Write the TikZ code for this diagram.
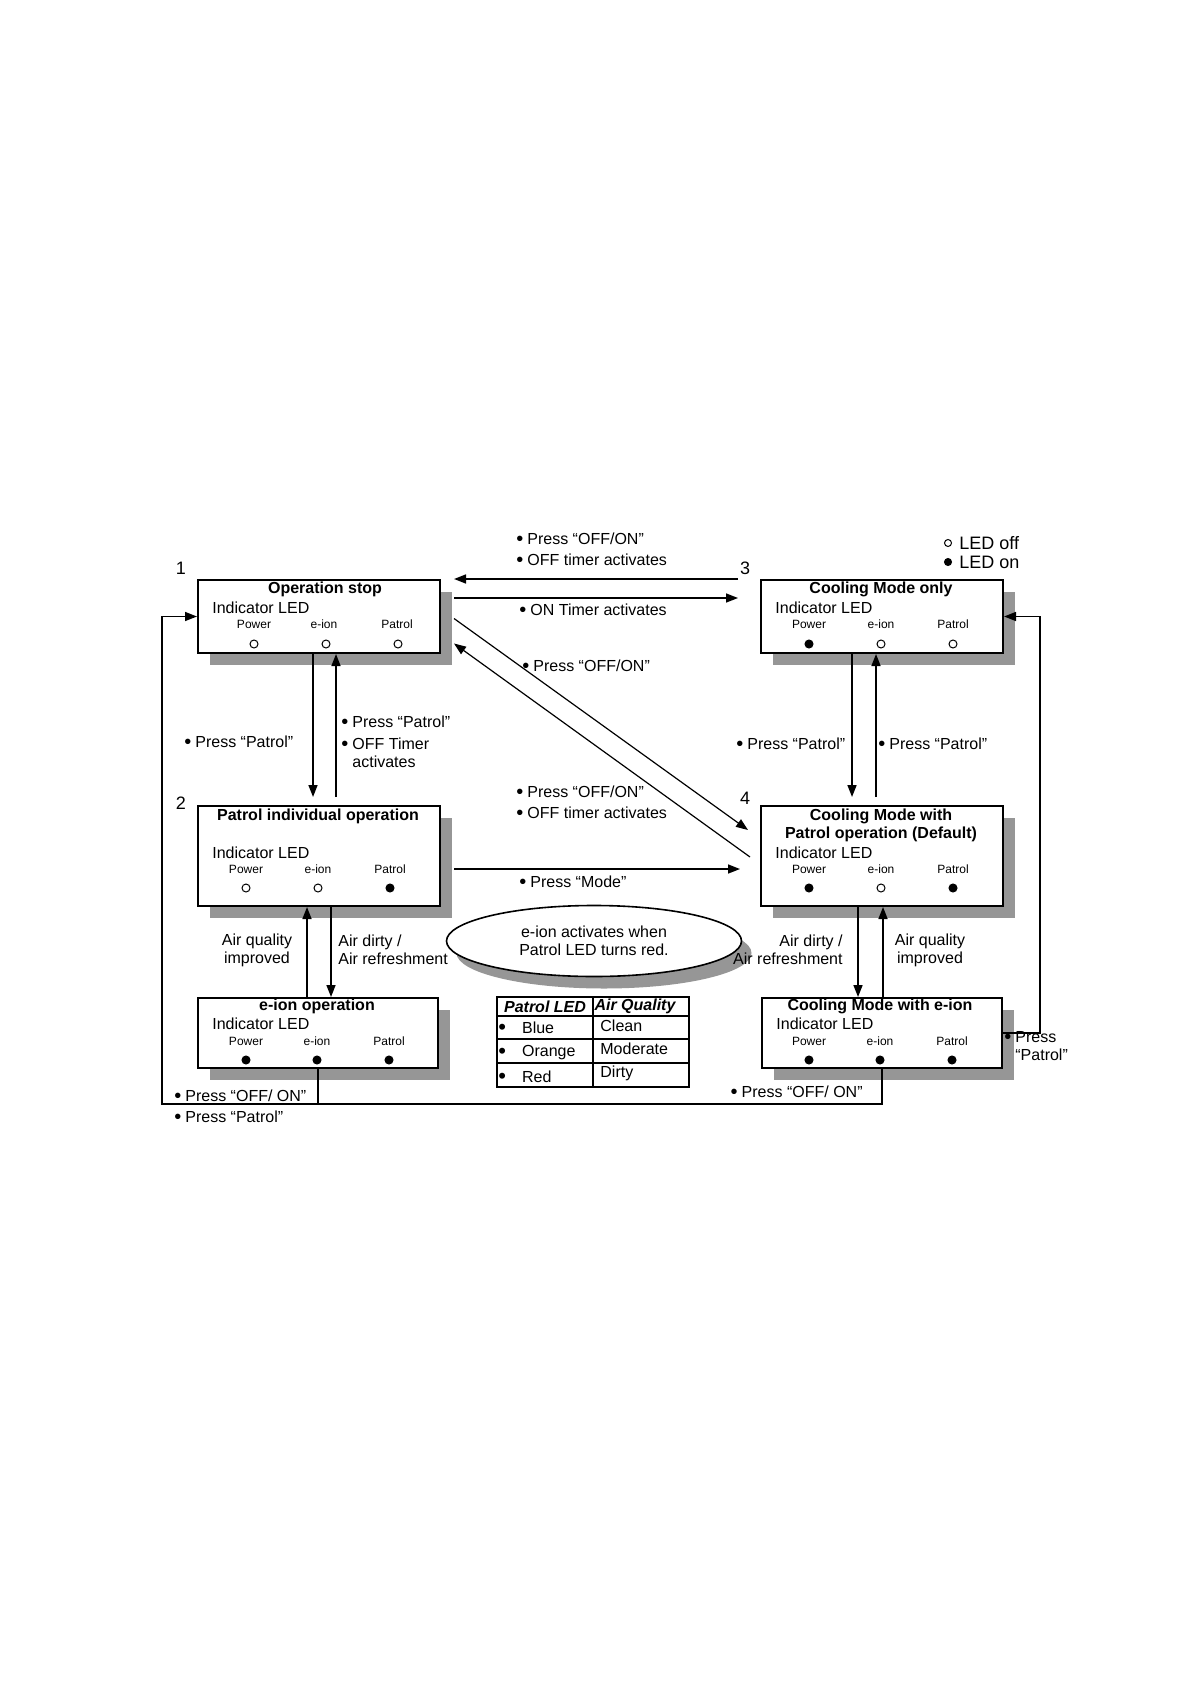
\documentclass[tikz,border=0pt]{standalone}
\usepackage{fontspec}
\setmainfont{Liberation Sans}
\usetikzlibrary{positioning,calc,shapes.geometric,shadows,arrows.meta}

\definecolor{shadowgray}{RGB}{150,150,150}

% bigger bullet as in the printed chart
\newcommand{\bul}{\raisebox{-0.5pt}{\fontsize{10}{10}\selectfont\textbullet}\hspace{2pt}}
\newcommand{\tabbul}{\raisebox{-0.6pt}{\fontsize{11}{11}\selectfont\textbullet}}

\tikzset{
  statebox/.style={draw, line width=1pt, fill=white, minimum width=121pt,
    anchor=north west, inner sep=0pt,
    drop shadow={shadow xshift=6pt, shadow yshift=-6pt, fill=shadowgray, opacity=1}},
  boxtitle/.style={inner sep=0pt, align=center, font=\bfseries\fontsize{8}{9}\selectfont},
  ledhead/.style={inner sep=0pt, anchor=west, font=\fontsize{8}{9}\selectfont},
  ledname/.style={inner sep=0pt, font=\fontsize{6}{7}\selectfont},
  ledoff/.style={circle, draw, line width=0.5pt, fill=white, inner sep=0pt, minimum size=4pt},
  ledon/.style={ledoff, fill=black},
  lbl/.style={inner sep=0pt, anchor=west, align=left, font=\fontsize{8}{9}\selectfont},
  tabhead/.style={inner sep=0pt, font=\bfseries\itshape\fontsize{8}{9}\selectfont},
  key/.style={inner sep=0pt, font=\fontsize{9}{10}\selectfont},
  num/.style={inner sep=0pt, font=\fontsize{9}{10}\selectfont},
  note/.style={ellipse, draw, thick, fill=white, minimum width=147.5pt,
    minimum height=35.5pt, inner sep=0pt, align=center, font=\fontsize{8}{9}\selectfont,
    drop shadow={shadow xshift=5pt, shadow yshift=-6pt, fill=shadowgray, opacity=1}},
  arr/.style={thick, -{Triangle[length=6pt,width=4.5pt]}},
  diag/.style={line width=0.6pt, -{Triangle[length=6pt,width=4.5pt]}},
  link/.style={thick},
  grid/.style={line width=0.6pt}
}

\begin{document}
\begin{tikzpicture}[x=0.5pt, y=-0.5pt]
  \useasboundingbox (0,0) rectangle (1190,1684);

  % State boxes
  \node[statebox, minimum height=36.5pt] (s1) at (197,579) {};
  \node[statebox, minimum height=36.5pt] (s3) at (760,579) {};
  \node[statebox, minimum height=50pt] (s2) at (197,805) {};
  \node[statebox, minimum height=50pt] (s4) at (760,805) {};
  \node[statebox, minimum height=35pt, minimum width=120pt] (s5) at (197,997) {};
  \node[statebox, minimum height=35pt, minimum width=120pt] (s6) at (761,997) {};

  % 1: Operation stop
  \node[num] (n1) at (181,568) {1};
  \node[boxtitle] (s1title) at (325,589) {Operation stop};
  \node[ledhead] (s1head) at (212,608) {Indicator LED};
  \node[ledname] (s1powname) at (254,624) {Power};
  \node[ledname] (s1ionname) at (324,624) {e-ion};
  \node[ledname] (s1patname) at (397,624) {Patrol};
  \node[ledoff] (s1pow) at (254,644) {};
  \node[ledoff] (s1ion) at (326,644) {};
  \node[ledoff] (s1pat) at (398,644) {};

  % 3: Cooling Mode only
  \node[num] (n3) at (745,568) {3};
  \node[boxtitle] (s3title) at (881,589) {Cooling Mode only};
  \node[ledhead] (s3head) at (775,608) {Indicator LED};
  \node[ledname] (s3powname) at (809,624) {Power};
  \node[ledname] (s3ionname) at (881,624) {e-ion};
  \node[ledname] (s3patname) at (953,624) {Patrol};
  \node[ledon] (s3pow) at (809,644) {};
  \node[ledoff] (s3ion) at (881,644) {};
  \node[ledoff] (s3pat) at (953,644) {};

  % 2: Patrol individual operation
  \node[num] (n2) at (181,803) {2};
  \node[boxtitle] (s2title) at (318,816) {Patrol individual operation};
  \node[ledhead] (s2head) at (212,853) {Indicator LED};
  \node[ledname] (s2powname) at (246,869) {Power};
  \node[ledname] (s2ionname) at (318,869) {e-ion};
  \node[ledname] (s2patname) at (390,869) {Patrol};
  \node[ledoff] (s2pow) at (246,888) {};
  \node[ledoff] (s2ion) at (318,888) {};
  \node[ledon] (s2pat) at (390,888) {};

  % 4: Cooling Mode with Patrol operation
  \node[num] (n4) at (745,798) {4};
  \node[boxtitle] (s4title) at (881,825) {Cooling Mode with\\Patrol operation (Default)};
  \node[ledhead] (s4head) at (775,853) {Indicator LED};
  \node[ledname] (s4powname) at (809,869) {Power};
  \node[ledname] (s4ionname) at (881,869) {e-ion};
  \node[ledname] (s4patname) at (953,869) {Patrol};
  \node[ledon] (s4pow) at (809,888) {};
  \node[ledoff] (s4ion) at (881,888) {};
  \node[ledon] (s4pat) at (953,888) {};

  % e-ion operation
  \node[boxtitle] (s5title) at (317,1006) {e-ion operation};
  \node[ledhead] (s5head) at (212,1024) {Indicator LED};
  \node[ledname] (s5powname) at (246,1041) {Power};
  \node[ledname] (s5ionname) at (317,1041) {e-ion};
  \node[ledname] (s5patname) at (389,1041) {Patrol};
  \node[ledon] (s5pow) at (246,1060) {};
  \node[ledon] (s5ion) at (317,1060) {};
  \node[ledon] (s5pat) at (389,1060) {};

  % Cooling Mode with e-ion
  \node[boxtitle] (s6title) at (880,1006) {Cooling Mode with e-ion};
  \node[ledhead] (s6head) at (776,1024) {Indicator LED};
  \node[ledname] (s6powname) at (809,1041) {Power};
  \node[ledname] (s6ionname) at (880,1041) {e-ion};
  \node[ledname] (s6patname) at (952,1041) {Patrol};
  \node[ledon] (s6pow) at (809,1060) {};
  \node[ledon] (s6ion) at (880,1060) {};
  \node[ledon] (s6pat) at (952,1060) {};

  % Legend
  \node[ledoff, minimum size=3.5pt] (keyoff) at (948,543) {};
  \node[ledon, minimum size=3.5pt] (keyon) at (948,562) {};
  \node[key, right=3.5pt of keyoff] (keyofftext) {LED off};
  \node[key, right=3.5pt of keyon] (keyontext) {LED on};

  % Note on e-ion
  \node[note] (note) at (594,941) {e-ion activates when\\Patrol LED turns red.};

  % Transitions
  \draw[arr] ($(s3.north west)+(-22,0)$) -- ($(s1.north east)+(13,0)$);
  \draw[arr] ($(s1.north east)+(13,19)$) -- ($(s3.north west)+(-22,19)$);
  \draw[diag] ($(s1.east)+(13,2)$) -- ($(s4.north west)+(-12,25)$);
  \draw[diag] ($(s4.north west)+(-10,52)$) -- ($(s1.east)+(13,27)$);
  \draw[arr] ($(s1.south)+(-6,0)$) -- ($(s2.north)+(-6,-8)$);
  \draw[arr] ($(s2.north)+(17,-8)$) -- ($(s1.south)+(17,0)$);
  \draw[arr] ($(s3.south)+(-30,0)$) -- ($(s4.north)+(-30,-8)$);
  \draw[arr] ($(s4.north)+(-6,-8)$) -- ($(s3.south)+(-6,0)$);
  \draw[arr] ($(s5.north)+(-11,0)$) -- ($(s2.south)+(-12,0)$);
  \draw[arr] ($(s2.south)+(12,0)$) -- ($(s5.north)+(13,0)$);
  \draw[arr] ($(s4.south)+(-24,0)$) -- ($(s6.north)+(-24,0)$);
  \draw[arr] ($(s6.north)+(1,0)$) -- ($(s4.south)+(1,0)$);
  \draw[arr] ($(s2.north east)+(13,64)$) -- ($(s4.north west)+(-20,64)$);

  % Return loops
  \coordinate (join) at ($(s5.south)+(0,35)$);
  \draw[arr] (s5.south) -- (join) -| ($(s1.west)+(-35,0)$) -- (s1.west);
  \draw[link] (s6.south) |- (join);
  \draw[arr] (s6.east) -- ++(37,0) |- (s3.east);

  % Transition labels
  \node[lbl] (offon1) at (516,549.5) {\bul Press “OFF/ON”\\[1.5pt]\bul OFF timer activates};
  \node[lbl] (ontimer) at (519,610) {\bul ON Timer activates};
  \node[lbl] (offon2) at (522,666) {\bul Press “OFF/ON”};
  \node[lbl] (offon3) at (516,802.5) {\bul Press “OFF/ON”\\[1.5pt]\bul OFF timer activates};
  \node[lbl] (mode) at (519,882) {\bul Press “Mode”};
  \node[lbl] (patrol1) at (184,742) {\bul Press “Patrol”};
  \node[lbl] (patrol2) at (341,742) {\bul Press “Patrol”\\[2pt]\bul OFF Timer\\\phantom{\bul}activates};
  \node[lbl] (patrol3) at (736,744) {\bul Press “Patrol”};
  \node[lbl] (patrol4) at (878,744) {\bul Press “Patrol”};
  \node[lbl, anchor=center, align=center] (improved1) at (257,950) {Air quality\\improved};
  \node[lbl] (dirty1) at (338,950) {Air dirty /\\Air refreshment};
  \node[lbl, anchor=east, align=right] (dirty2) at (843,950) {Air dirty /\\Air refreshment};
  \node[lbl, anchor=center, align=center] (improved2) at (930,950) {Air quality\\improved};
  \node[lbl] (patrol5) at (1004,1046) {\bul Press\\\phantom{\bul}“Patrol”};
  \node[lbl] (offon4) at (174,1106.5) {\bul Press “OFF/ ON”\\[1.5pt]\bul Press “Patrol”};
  \node[lbl, anchor=east] (offon5) at (863,1092) {\bul Press “OFF/ ON”};

  % Patrol LED table
  \draw[grid] (497,997) rectangle (689,1087);
  \draw[grid] (593,997) -- (593,1087);
  \draw[grid] (497,1016) -- (689,1016);
  \draw[grid] (497,1039) -- (689,1039);
  \draw[grid] (497,1063) -- (689,1063);
  \node[tabhead] (colled) at (545,1006.5) {Patrol LED};
  \node[tabhead] (colair) at (635,1006.5) {Air Quality};
  \node[lbl] (blue) at (498,1028) {\tabbul\hspace{8pt}Blue};
  \node[lbl] (orange) at (498,1053) {\tabbul\hspace{8pt}Orange};
  \node[lbl] (red) at (498,1077) {\tabbul\hspace{8pt}Red};
  \node[lbl] (clean) at (600,1026) {Clean};
  \node[lbl] (moderate) at (600,1049) {Moderate};
  \node[lbl] (dirty) at (600,1073) {Dirty};
\end{tikzpicture}
\end{document}
